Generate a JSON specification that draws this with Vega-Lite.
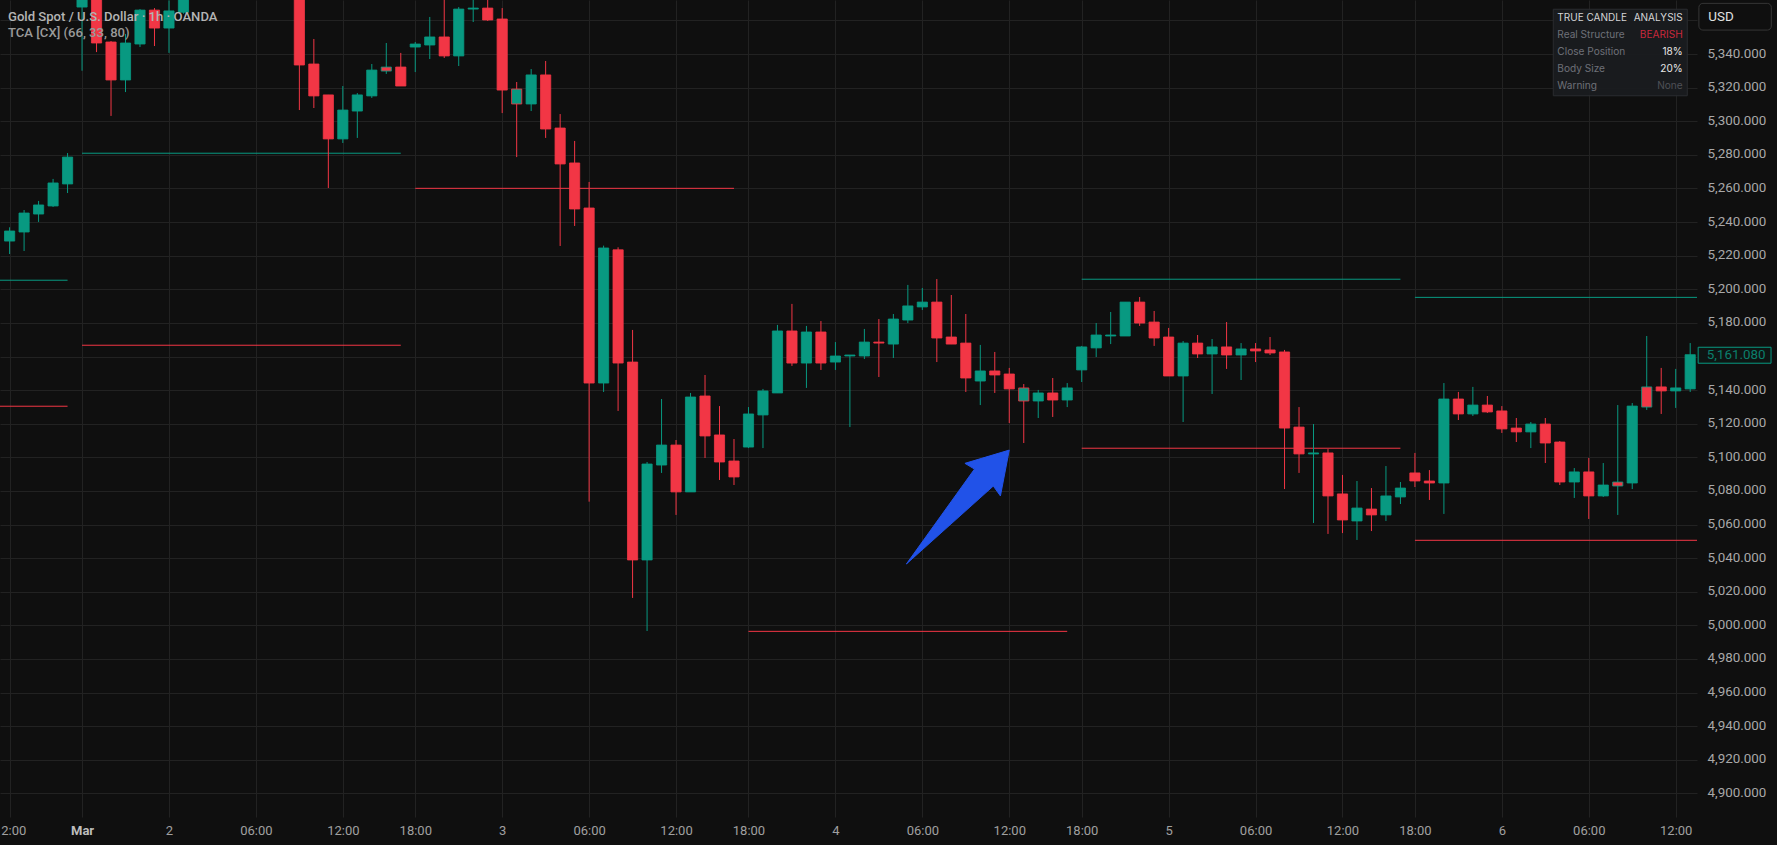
{
"$schema":"https://vega.github.io/schema/vega-lite/v6.json",
"width":1697,"height":817,
"autosize":{"type":"none"},
"padding":{"left":0,"top":0,"right":80,"bottom":28},
"background":"#0f0f0f",
"config":{"view":{"stroke":null},"text":{"font":"Roboto"},"axis":{"labelFont":"Roboto"}},
"resolve":{"scale":{"color":"independent"},"axis":{"x":"independent","y":"independent"}},
"datasets":{
"candles":[
{"n":0,"open":5228.7,"close":5234.7,"high":5236.9,"low":5221.0,"body":"up","structure":"up"},
{"n":1,"open":5234.1,"close":5245.4,"high":5247.2,"low":5222.8,"body":"up","structure":"up"},
{"n":2,"open":5244.8,"close":5250.2,"high":5252.6,"low":5240.1,"body":"up","structure":"up"},
{"n":3,"open":5249.6,"close":5263.3,"high":5265.7,"low":5249.0,"body":"up","structure":"up"},
{"n":4,"open":5262.7,"close":5278.7,"high":5281.1,"low":5257.3,"body":"up","structure":"up"},
{"n":5,"open":5368.0,"close":5385,"high":5390,"low":5330.1,"body":"up","structure":"up"},
{"n":6,"open":5385,"close":5346.6,"high":5390,"low":5341.2,"body":"down","structure":"down"},
{"n":7,"open":5347.2,"close":5324.6,"high":5347.8,"low":5303.2,"body":"down","structure":"down"},
{"n":8,"open":5324.6,"close":5346.6,"high":5352.0,"low":5317.4,"body":"up","structure":"up"},
{"n":9,"open":5346.0,"close":5366.2,"high":5366.8,"low":5344.2,"body":"up","structure":"up"},
{"n":10,"open":5366.2,"close":5355.5,"high":5367.4,"low":5344.8,"body":"down","structure":"down"},
{"n":11,"open":5355.5,"close":5365.7,"high":5372,"low":5340.7,"body":"up","structure":"up"},
{"n":12,"open":5364.9,"close":5385,"high":5390,"low":5364,"body":"up","structure":"up"},
{"n":20,"open":5400,"close":5333.5,"high":5405,"low":5306.7,"body":"down","structure":"down"},
{"n":21,"open":5334.1,"close":5315.1,"high":5349.0,"low":5307.9,"body":"down","structure":"down"},
{"n":22,"open":5315.7,"close":5289.5,"high":5315.7,"low":5260.3,"body":"down","structure":"down"},
{"n":23,"open":5289.5,"close":5306.7,"high":5321.0,"low":5287.1,"body":"up","structure":"up"},
{"n":24,"open":5306.1,"close":5315.7,"high":5316.8,"low":5290.1,"body":"up","structure":"up"},
{"n":25,"open":5315.1,"close":5330.5,"high":5334.1,"low":5313.9,"body":"up","structure":"up"},
{"n":26,"open":5332.3,"close":5329.9,"high":5346.6,"low":5328.2,"body":"down","structure":"up"},
{"n":27,"open":5332.3,"close":5321.0,"high":5340.7,"low":5321.0,"body":"down","structure":"down"},
{"n":28,"open":5344.2,"close":5346.0,"high":5347.2,"low":5329.3,"body":"up","structure":"up"},
{"n":29,"open":5345.4,"close":5350.2,"high":5362.1,"low":5337.1,"body":"up","structure":"up"},
{"n":30,"open":5350.2,"close":5338.9,"high":5375,"low":5337.7,"body":"down","structure":"down"},
{"n":31,"open":5338.9,"close":5366.8,"high":5368.0,"low":5332.9,"body":"up","structure":"up"},
{"n":32,"open":5366.8,"close":5367.4,"high":5375,"low":5359.1,"body":"up","structure":"up"},
{"n":33,"open":5367.4,"close":5360.3,"high":5376,"low":5359.7,"body":"down","structure":"down"},
{"n":34,"open":5360.9,"close":5318.6,"high":5367.4,"low":5304.9,"body":"down","structure":"down"},
{"n":35,"open":5310.3,"close":5319.2,"high":5323.4,"low":5278.7,"body":"up","structure":"down"},
{"n":36,"open":5310.3,"close":5327.6,"high":5331.1,"low":5306.1,"body":"up","structure":"up"},
{"n":37,"open":5327.6,"close":5295.4,"high":5335.9,"low":5290.1,"body":"down","structure":"down"},
{"n":38,"open":5296.0,"close":5274.6,"high":5304.3,"low":5225.8,"body":"down","structure":"down"},
{"n":39,"open":5275.2,"close":5247.8,"high":5288.3,"low":5237.7,"body":"down","structure":"down"},
{"n":40,"open":5248.4,"close":5144.2,"high":5263.9,"low":5073.6,"body":"down","structure":"down"},
{"n":41,"open":5144.2,"close":5224.6,"high":5226.0,"low":5138.9,"body":"up","structure":"up"},
{"n":42,"open":5223.5,"close":5156.1,"high":5225.0,"low":5127.6,"body":"down","structure":"down"},
{"n":43,"open":5156.7,"close":5038.9,"high":5175.8,"low":5016.3,"body":"down","structure":"down"},
{"n":44,"open":5038.9,"close":5096.0,"high":5097.2,"low":4996.6,"body":"up","structure":"up"},
{"n":45,"open":5095.4,"close":5107.3,"high":5134.7,"low":5090.7,"body":"up","structure":"up"},
{"n":46,"open":5107.3,"close":5079.4,"high":5110.3,"low":5065.7,"body":"down","structure":"down"},
{"n":47,"open":5079.4,"close":5135.9,"high":5138.3,"low":5079.4,"body":"up","structure":"up"},
{"n":48,"open":5136.5,"close":5112.7,"high":5149.0,"low":5099.6,"body":"down","structure":"down"},
{"n":49,"open":5113.3,"close":5097.2,"high":5130.5,"low":5086.5,"body":"down","structure":"down"},
{"n":50,"open":5097.8,"close":5088.3,"high":5110.9,"low":5083.5,"body":"down","structure":"down"},
{"n":51,"open":5106.1,"close":5125.8,"high":5129.9,"low":5105.5,"body":"up","structure":"up"},
{"n":52,"open":5125.2,"close":5139.5,"high":5140.7,"low":5105.5,"body":"up","structure":"up"},
{"n":53,"open":5138.3,"close":5175.2,"high":5178.8,"low":5138.3,"body":"up","structure":"up"},
{"n":54,"open":5175.2,"close":5156.1,"high":5191.3,"low":5154.4,"body":"down","structure":"down"},
{"n":55,"open":5156.1,"close":5174.6,"high":5178.2,"low":5141.3,"body":"up","structure":"up"},
{"n":56,"open":5174.6,"close":5156.1,"high":5181.1,"low":5152.0,"body":"down","structure":"down"},
{"n":57,"open":5156.7,"close":5160.3,"high":5168.6,"low":5152.0,"body":"up","structure":"up"},
{"n":58,"open":5160.3,"close":5160.9,"high":5160.9,"low":5118.0,"body":"up","structure":"up"},
{"n":59,"open":5160.3,"close":5168.6,"high":5176.4,"low":5158.5,"body":"up","structure":"up"},
{"n":60,"open":5168.6,"close":5168.0,"high":5182.3,"low":5147.8,"body":"down","structure":"down"},
{"n":61,"open":5167.4,"close":5182.3,"high":5185.3,"low":5159.1,"body":"up","structure":"up"},
{"n":62,"open":5181.7,"close":5190.1,"high":5202.6,"low":5179.9,"body":"up","structure":"up"},
{"n":63,"open":5189.5,"close":5192.4,"high":5200.8,"low":5187.7,"body":"up","structure":"up"},
{"n":64,"open":5192.4,"close":5171.0,"high":5206.1,"low":5156.7,"body":"down","structure":"down"},
{"n":65,"open":5171.6,"close":5167.4,"high":5196.6,"low":5167.4,"body":"down","structure":"down"},
{"n":66,"open":5168.0,"close":5147.2,"high":5185.3,"low":5138.9,"body":"down","structure":"down"},
{"n":67,"open":5145.4,"close":5151.4,"high":5166.9,"low":5131.1,"body":"up","structure":"up"},
{"n":68,"open":5151.4,"close":5149.0,"high":5162.7,"low":5138.3,"body":"down","structure":"down"},
{"n":69,"open":5149.6,"close":5140.7,"high":5153.2,"low":5120.4,"body":"down","structure":"down"},
{"n":70,"open":5133.5,"close":5141.3,"high":5143.6,"low":5108.5,"body":"up","structure":"down"},
{"n":71,"open":5133.5,"close":5138.3,"high":5140.1,"low":5123.4,"body":"up","structure":"up"},
{"n":72,"open":5138.3,"close":5134.1,"high":5147.2,"low":5124.0,"body":"down","structure":"down"},
{"n":73,"open":5134.1,"close":5141.3,"high":5144.2,"low":5129.9,"body":"up","structure":"up"},
{"n":74,"open":5152.0,"close":5165.7,"high":5166.3,"low":5144.8,"body":"up","structure":"up"},
{"n":75,"open":5165.1,"close":5172.8,"high":5179.9,"low":5159.7,"body":"up","structure":"up"},
{"n":76,"open":5172.2,"close":5172.8,"high":5186.5,"low":5167.4,"body":"up","structure":"up"},
{"n":77,"open":5172.2,"close":5192.4,"high":5192.4,"low":5172.2,"body":"up","structure":"up"},
{"n":78,"open":5192.4,"close":5179.9,"high":5195.4,"low":5178.2,"body":"down","structure":"down"},
{"n":79,"open":5180.5,"close":5171.0,"high":5187.1,"low":5166.3,"body":"down","structure":"down"},
{"n":80,"open":5171.6,"close":5148.4,"high":5177.0,"low":5148.4,"body":"down","structure":"down"},
{"n":81,"open":5148.4,"close":5168.0,"high":5169.2,"low":5121.0,"body":"up","structure":"up"},
{"n":82,"open":5168.0,"close":5161.5,"high":5172.8,"low":5159.1,"body":"down","structure":"down"},
{"n":83,"open":5161.5,"close":5165.7,"high":5170.4,"low":5137.7,"body":"up","structure":"up"},
{"n":84,"open":5165.7,"close":5160.9,"high":5180.5,"low":5152.6,"body":"down","structure":"down"},
{"n":85,"open":5160.9,"close":5164.5,"high":5168.0,"low":5146.0,"body":"up","structure":"up"},
{"n":86,"open":5164.5,"close":5163.3,"high":5168.0,"low":5156.7,"body":"down","structure":"down"},
{"n":87,"open":5163.9,"close":5162.1,"high":5171.6,"low":5160.9,"body":"down","structure":"down"},
{"n":88,"open":5162.7,"close":5117.4,"high":5163.9,"low":5081.1,"body":"down","structure":"down"},
{"n":89,"open":5118.0,"close":5102.0,"high":5129.9,"low":5090.7,"body":"down","structure":"down"},
{"n":90,"open":5102.0,"close":5102.6,"high":5119.8,"low":5060.9,"body":"up","structure":"up"},
{"n":91,"open":5102.6,"close":5077.0,"high":5104.9,"low":5054.4,"body":"down","structure":"down"},
{"n":92,"open":5078.2,"close":5062.7,"high":5089.5,"low":5054.9,"body":"down","structure":"down"},
{"n":93,"open":5062.1,"close":5069.8,"high":5085.9,"low":5050.8,"body":"up","structure":"up"},
{"n":94,"open":5069.2,"close":5065.7,"high":5081.7,"low":5056.1,"body":"down","structure":"down"},
{"n":95,"open":5065.7,"close":5077.0,"high":5094.8,"low":5062.1,"body":"up","structure":"up"},
{"n":96,"open":5076.4,"close":5081.7,"high":5085.3,"low":5072.2,"body":"up","structure":"up"},
{"n":97,"open":5090.7,"close":5085.9,"high":5102.6,"low":5082.3,"body":"down","structure":"down"},
{"n":98,"open":5085.9,"close":5084.7,"high":5092.4,"low":5074.6,"body":"down","structure":"down"},
{"n":99,"open":5084.7,"close":5134.7,"high":5144.2,"low":5066.3,"body":"up","structure":"up"},
{"n":100,"open":5134.7,"close":5125.8,"high":5138.9,"low":5122.2,"body":"down","structure":"down"},
{"n":101,"open":5125.8,"close":5131.1,"high":5141.9,"low":5124.6,"body":"up","structure":"up"},
{"n":102,"open":5131.1,"close":5127.0,"high":5136.5,"low":5126.4,"body":"down","structure":"down"},
{"n":103,"open":5127.6,"close":5116.9,"high":5130.5,"low":5114.5,"body":"down","structure":"down"},
{"n":104,"open":5117.4,"close":5115.1,"high":5123.4,"low":5109.1,"body":"down","structure":"down"},
{"n":105,"open":5115.1,"close":5119.8,"high":5121.0,"low":5105.5,"body":"up","structure":"up"},
{"n":106,"open":5119.8,"close":5108.5,"high":5123.4,"low":5096.6,"body":"down","structure":"down"},
{"n":107,"open":5109.1,"close":5085.3,"high":5109.7,"low":5083.5,"body":"down","structure":"down"},
{"n":108,"open":5085.3,"close":5091.3,"high":5093.6,"low":5075.8,"body":"up","structure":"up"},
{"n":109,"open":5091.3,"close":5077.0,"high":5099.6,"low":5063.3,"body":"down","structure":"down"},
{"n":110,"open":5077.0,"close":5083.5,"high":5096.6,"low":5076.4,"body":"up","structure":"up"},
{"n":111,"open":5085.3,"close":5082.9,"high":5131.1,"low":5065.7,"body":"down","structure":"up"},
{"n":112,"open":5084.7,"close":5130.5,"high":5132.3,"low":5081.1,"body":"up","structure":"up"},
{"n":113,"open":5141.9,"close":5129.9,"high":5172.2,"low":5128.2,"body":"down","structure":"up"},
{"n":114,"open":5141.9,"close":5139.5,"high":5153.2,"low":5125.8,"body":"down","structure":"down"},
{"n":115,"open":5139.5,"close":5141.3,"high":5152.6,"low":5129.4,"body":"up","structure":"up"},
{"n":116,"open":5140.7,"close":5161.08,"high":5168.0,"low":5138.9,"body":"up","structure":"up"}
],
"levels":[
{"start":-2,"end":4,"price":5205.4,"side":"up"},
{"start":-2,"end":4,"price":5130.4,"side":"down"},
{"start":5,"end":27,"price":5281.0,"side":"up"},
{"start":5,"end":27,"price":5166.7,"side":"down"},
{"start":28,"end":50,"price":5260.1,"side":"down"},
{"start":51,"end":73,"price":4996.4,"side":"down"},
{"start":74,"end":96,"price":5206.0,"side":"up"},
{"start":74,"end":96,"price":5105.4,"side":"down"},
{"start":97,"end":120,"price":5195.2,"side":"up"},
{"start":97,"end":120,"price":5050.6,"side":"down"}
],
"arrow":[
{"step":1,"n":61.9,"price":5036.5},
{"step":2,"n":66.6,"price":5093.0},
{"step":3,"n":65.94,"price":5096.4},
{"step":4,"n":69.0,"price":5104.3},
{"step":5,"n":68.39,"price":5077.0},
{"step":6,"n":67.9,"price":5082.9},
{"step":7,"n":61.9,"price":5036.5}
]
},
"layer":[
{"data":{"name":"levels"},
"mark":{"type":"rule","strokeWidth":1,"clip":true},
"encoding":{
"x":{"field":"start","type":"quantitative","scale":{"domain":[-0.663,116.47],"nice":false,"zero":false,"padding":0},
"axis":{"title":null,"domain":false,"ticks":false,"grid":true,"gridColor":"#222222","gridWidth":1,"labelPadding":7,"labelFontSize":13,"labelOverlap":false,"labelBound":false,"labelFlush":false,
"values":[0,5,11,17,23,28,34,40,46,51,57,63,69,74,80,86,92,97,103,109,115],
"labelExpr":"{'0':'12:00','5':'Mar','11':'2','17':'06:00','23':'12:00','28':'18:00','34':'3','40':'06:00','46':'12:00','51':'18:00','57':'4','63':'06:00','69':'12:00','74':'18:00','80':'5','86':'06:00','92':'12:00','97':'18:00','103':'6','109':'06:00','115':'12:00'}[datum.value]",
"labelColor":{"condition":{"test":"datum.value == 5","value":"#bdbdbd"},"value":"#a0a0a0"},
"labelFontWeight":{"condition":{"test":"datum.value == 5","value":"bold"},"value":"normal"}}},
"x2":{"field":"end"},
"y":{"field":"price","type":"quantitative","scale":{"domain":[4885.9,5372.2],"nice":false,"zero":false,"padding":0},
"axis":{"title":null,"orient":"right","domain":false,"ticks":false,"grid":true,"gridColor":"#222222","gridWidth":1,"labelPadding":10,"labelOffset":-1,"labelFontSize":13.4,"labelColor":"#a8a8a8","labelOverlap":false,"labelBound":false,"labelFlush":false,
"labelExpr":"datum.value == 5360 || datum.value == 5160 ? '' : format(datum.value, ',.3f')",
"values":[4900,4920,4940,4960,4980,5000,5020,5040,5060,5080,5100,5120,5140,5160,5180,5200,5220,5240,5260,5280,5300,5320,5340,5360]}},
"color":{"field":"side","type":"nominal","legend":null,"scale":{"domain":["up","down"],"range":["#089981","#f23645"]}}
}},
{"data":{"name":"candles"},
"mark":{"type":"rule","strokeWidth":1,"clip":true},
"encoding":{
"x":{"field":"n","type":"quantitative","scale":{"domain":[-0.663,116.47],"nice":false,"zero":false,"padding":0},"axis":null},
"y":{"field":"low","type":"quantitative","scale":{"domain":[4885.9,5372.2],"nice":false,"zero":false,"padding":0},"axis":null},
"y2":{"field":"high"},
"color":{"field":"structure","type":"nominal","legend":null,"scale":{"domain":["up","down"],"range":["#089981","#f23645"]}}
}},
{"data":{"name":"candles"},
"mark":{"type":"bar","size":10.2,"strokeWidth":0.8,"clip":true},
"encoding":{
"x":{"field":"n","type":"quantitative","scale":{"domain":[-0.663,116.47],"nice":false,"zero":false,"padding":0},"axis":null},
"y":{"field":"open","type":"quantitative","scale":{"domain":[4885.9,5372.2],"nice":false,"zero":false,"padding":0},"axis":null},
"y2":{"field":"close"},
"fill":{"field":"body","type":"nominal","legend":null,"scale":{"domain":["up","down"],"range":["#089981","#f23645"]}},
"stroke":{"field":"structure","type":"nominal","legend":null,"scale":{"domain":["up","down"],"range":["#089981","#f23645"]}}
}},
{"data":{"name":"arrow"},
"mark":{"type":"line","fill":"#2152e8","stroke":"#2152e8","strokeWidth":1,"strokeJoin":"round"},
"encoding":{
"x":{"field":"n","type":"quantitative","scale":{"domain":[-0.663,116.47],"nice":false,"zero":false,"padding":0},"axis":null},
"y":{"field":"price","type":"quantitative","scale":{"domain":[4885.9,5372.2],"nice":false,"zero":false,"padding":0},"axis":null},
"order":{"field":"step","type":"quantitative"}
}},
{"data":{"values":[
{"n":-0.11,"price":5362.3,"label":"Gold Spot / U.S. Dollar · 1h · OANDA","weight":"main"},
{"n":-0.11,"price":5352.4,"label":"TCA [CX] (66, 33, 80)","weight":"sub"}
]},
"mark":{"type":"text","align":"left","baseline":"middle","fontSize":13.1,"fontWeight":500,"font":"Roboto"},
"encoding":{
"x":{"field":"n","type":"quantitative","scale":{"domain":[-0.663,116.47],"nice":false,"zero":false,"padding":0},"axis":null},
"y":{"field":"price","type":"quantitative","scale":{"domain":[4885.9,5372.2],"nice":false,"zero":false,"padding":0},"axis":null},
"text":{"field":"label"},
"color":{"field":"weight","type":"nominal","legend":null,"scale":{"domain":["main","sub"],"range":["#b4b4b4","#9a9a9a"]}}
}},
{"data":{"values":[{"n":106.55,"n2":115.8,"top":5366.7,"bottom":5315.2}]},
"mark":{"type":"rect","fill":"#1a1c20","fillOpacity":0.92,"stroke":"#2a2c30","strokeWidth":1},
"encoding":{
"x":{"field":"n","type":"quantitative","scale":{"domain":[-0.663,116.47],"nice":false,"zero":false,"padding":0},"axis":null},
"x2":{"field":"n2"},
"y":{"field":"top","type":"quantitative","scale":{"domain":[4885.9,5372.2],"nice":false,"zero":false,"padding":0},"axis":null},
"y2":{"field":"bottom"}
}},
{"data":{"values":[
{"n":106.83,"price":5361.3,"label":"TRUE CANDLE","kind":"head"},
{"n":106.83,"price":5351.2,"label":"Real Structure","kind":"key"},
{"n":106.83,"price":5341.1,"label":"Close Position","kind":"key"},
{"n":106.83,"price":5330.9,"label":"Body Size","kind":"key"},
{"n":106.83,"price":5320.8,"label":"Warning","kind":"key"}
]},
"mark":{"type":"text","align":"left","baseline":"middle","font":"Inter"},
"encoding":{
"x":{"field":"n","type":"quantitative","scale":{"domain":[-0.663,116.47],"nice":false,"zero":false,"padding":0},"axis":null},
"y":{"field":"price","type":"quantitative","scale":{"domain":[4885.9,5372.2],"nice":false,"zero":false,"padding":0},"axis":null},
"text":{"field":"label"},
"size":{"condition":{"test":"datum.kind == 'head'","value":10},"value":10.1},
"color":{"field":"kind","type":"nominal","legend":null,"scale":{"domain":["head","key"],"range":["#d6d6d6","#6e7078"]}}
}},
{"data":{"values":[
{"n":115.48,"price":5361.3,"label":"ANALYSIS","kind":"head"},
{"n":115.48,"price":5351.2,"label":"BEARISH","kind":"bear"},
{"n":115.48,"price":5341.1,"label":"18%","kind":"value"},
{"n":115.48,"price":5330.9,"label":"20%","kind":"value"},
{"n":115.48,"price":5320.8,"label":"None","kind":"none"}
]},
"mark":{"type":"text","align":"right","baseline":"middle","font":"Inter"},
"encoding":{
"x":{"field":"n","type":"quantitative","scale":{"domain":[-0.663,116.47],"nice":false,"zero":false,"padding":0},"axis":null},
"y":{"field":"price","type":"quantitative","scale":{"domain":[4885.9,5372.2],"nice":false,"zero":false,"padding":0},"axis":null},
"text":{"field":"label"},
"size":{"condition":{"test":"datum.kind == 'head'","value":10},"value":10.1},
"color":{"field":"kind","type":"nominal","legend":null,"scale":{"domain":["head","bear","value","none"],"range":["#d6d6d6","#c9283c","#e6e6e6","#4e5056"]}}
}},
{"data":{"values":[{"n":116.6,"n2":121.6,"top":5370.2,"bottom":5354.3}]},
"mark":{"type":"rect","fill":"#0f0f0f","stroke":"#363636","strokeWidth":1,"cornerRadius":4},
"encoding":{
"x":{"field":"n","type":"quantitative","scale":{"domain":[-0.663,116.47],"nice":false,"zero":false,"padding":0},"axis":null},
"x2":{"field":"n2"},
"y":{"field":"top","type":"quantitative","scale":{"domain":[4885.9,5372.2],"nice":false,"zero":false,"padding":0},"axis":null},
"y2":{"field":"bottom"}
}},
{"data":{"values":[{"n":116.55,"n2":121.58,"top":5165.5,"bottom":5156.0}]},
"mark":{"type":"rect","fill":"#0e1513","stroke":"#089981","strokeWidth":1},
"encoding":{
"x":{"field":"n","type":"quantitative","scale":{"domain":[-0.663,116.47],"nice":false,"zero":false,"padding":0},"axis":null},
"x2":{"field":"n2"},
"y":{"field":"top","type":"quantitative","scale":{"domain":[4885.9,5372.2],"nice":false,"zero":false,"padding":0},"axis":null},
"y2":{"field":"bottom"}
}},
{"data":{"values":[
{"n":117.25,"price":5362.3,"label":"USD","kind":"unit"},
{"n":117.14,"price":5161.0,"label":"5,161.080","kind":"last"}
]},
"mark":{"type":"text","align":"left","baseline":"middle","fontSize":13.4,"font":"Roboto"},
"encoding":{
"x":{"field":"n","type":"quantitative","scale":{"domain":[-0.663,116.47],"nice":false,"zero":false,"padding":0},"axis":null},
"y":{"field":"price","type":"quantitative","scale":{"domain":[4885.9,5372.2],"nice":false,"zero":false,"padding":0},"axis":null},
"text":{"field":"label"},
"color":{"field":"kind","type":"nominal","legend":null,"scale":{"domain":["unit","last"],"range":["#e0e0e0","#0b7f6c"]}}
}}
]
}
